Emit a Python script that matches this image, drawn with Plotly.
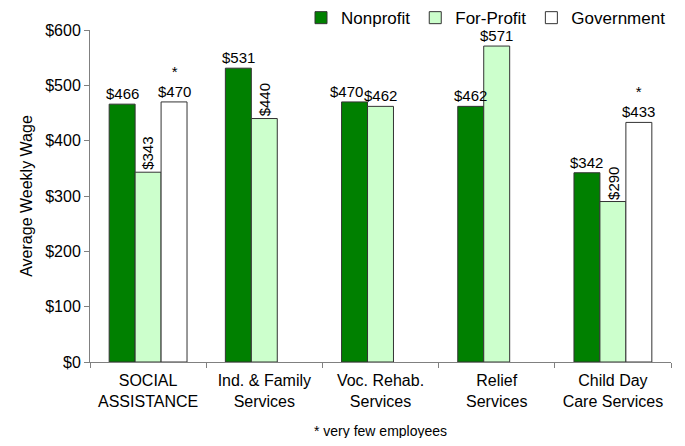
import plotly.graph_objects as go

categories = ["SOCIAL<br>ASSISTANCE", "Ind. & Family<br>Services", "Voc. Rehab.<br>Services",
              "Relief<br>Services", "Child Day<br>Care Services"]
nonprofit = [466, 531, 470, 462, 342]
forprofit = [343, 440, 462, 571, 290]
government = [470, None, None, None, 433]
# government figures based on very few employees
few_employees = [True, False, False, False, True]

series = [
    ("Nonprofit", nonprofit, "#008000"),
    ("For-Profit", forprofit, "#CCFFCC"),
    ("Government", government, "#FFFFFF"),
]

FONT = "Arial, Liberation Sans, sans-serif"

fig = go.Figure()
for name, vals, color in series:
    fig.add_trace(go.Bar(
        name=name, x=categories, y=vals,
        marker=dict(color=color, line=dict(color="#333333", width=1)),
    ))

# data labels: excel rotated the crowded ones
rotated = {("For-Profit", 0), ("For-Profit", 1), ("For-Profit", 4)}
nudge = {("Nonprofit", 2): -8}
bar_px = 26
for k, (name, vals, color) in enumerate(series):
    for i, v in enumerate(vals):
        if v is None:
            continue
        txt = f"${v}"
        if name == "Government" and few_employees[i]:
            txt = "*<br>" + txt
        rot = (name, i) in rotated
        fig.add_annotation(
            x=categories[i], y=v, text=txt, showarrow=False,
            xshift=(k - 1) * bar_px + nudge.get((name, i), 0),
            yanchor="bottom", yshift=0,
            textangle=-90 if rot else 0,
            font=dict(family=FONT, size=15, color="black"),
        )

fig.add_annotation(
    text="* very few employees", xref="paper", yref="paper",
    x=0.5, y=0, yshift=-59, yanchor="top", showarrow=False,
    font=dict(family=FONT, size=14, color="black"),
)

# page body has an 8px margin, so the figure is a bit smaller than the window
fig.update_layout(
    width=669, height=430,
    margin=dict(l=82, r=6, t=22, b=76, autoexpand=False),
    paper_bgcolor="white", plot_bgcolor="white",
    barmode="group", bargap=0.33, bargroupgap=0,
    font=dict(family=FONT, color="black"),
    legend=dict(orientation="h", xanchor="right", x=1.0, yref="paper", y=1.09,
                yanchor="top", font=dict(size=17), itemwidth=30,
                bgcolor="rgba(0,0,0,0)", traceorder="normal"),
    showlegend=True,
)
fig.update_xaxes(
    showline=True, linecolor="#808080", linewidth=1,
    ticks="outside", tickson="boundaries", ticklen=5, tickcolor="#808080",
    ticklabelstandoff=4, tickfont=dict(size=16),
)
fig.update_yaxes(
    range=[0, 600], dtick=100, tickprefix="$", showgrid=False,
    showline=True, linecolor="#808080", linewidth=1,
    ticks="outside", ticklen=5, tickcolor="#808080", tickfont=dict(size=16),
    title=dict(text="Average Weekly Wage", font=dict(size=16), standoff=8),
)

fig.write_html("out.html")
